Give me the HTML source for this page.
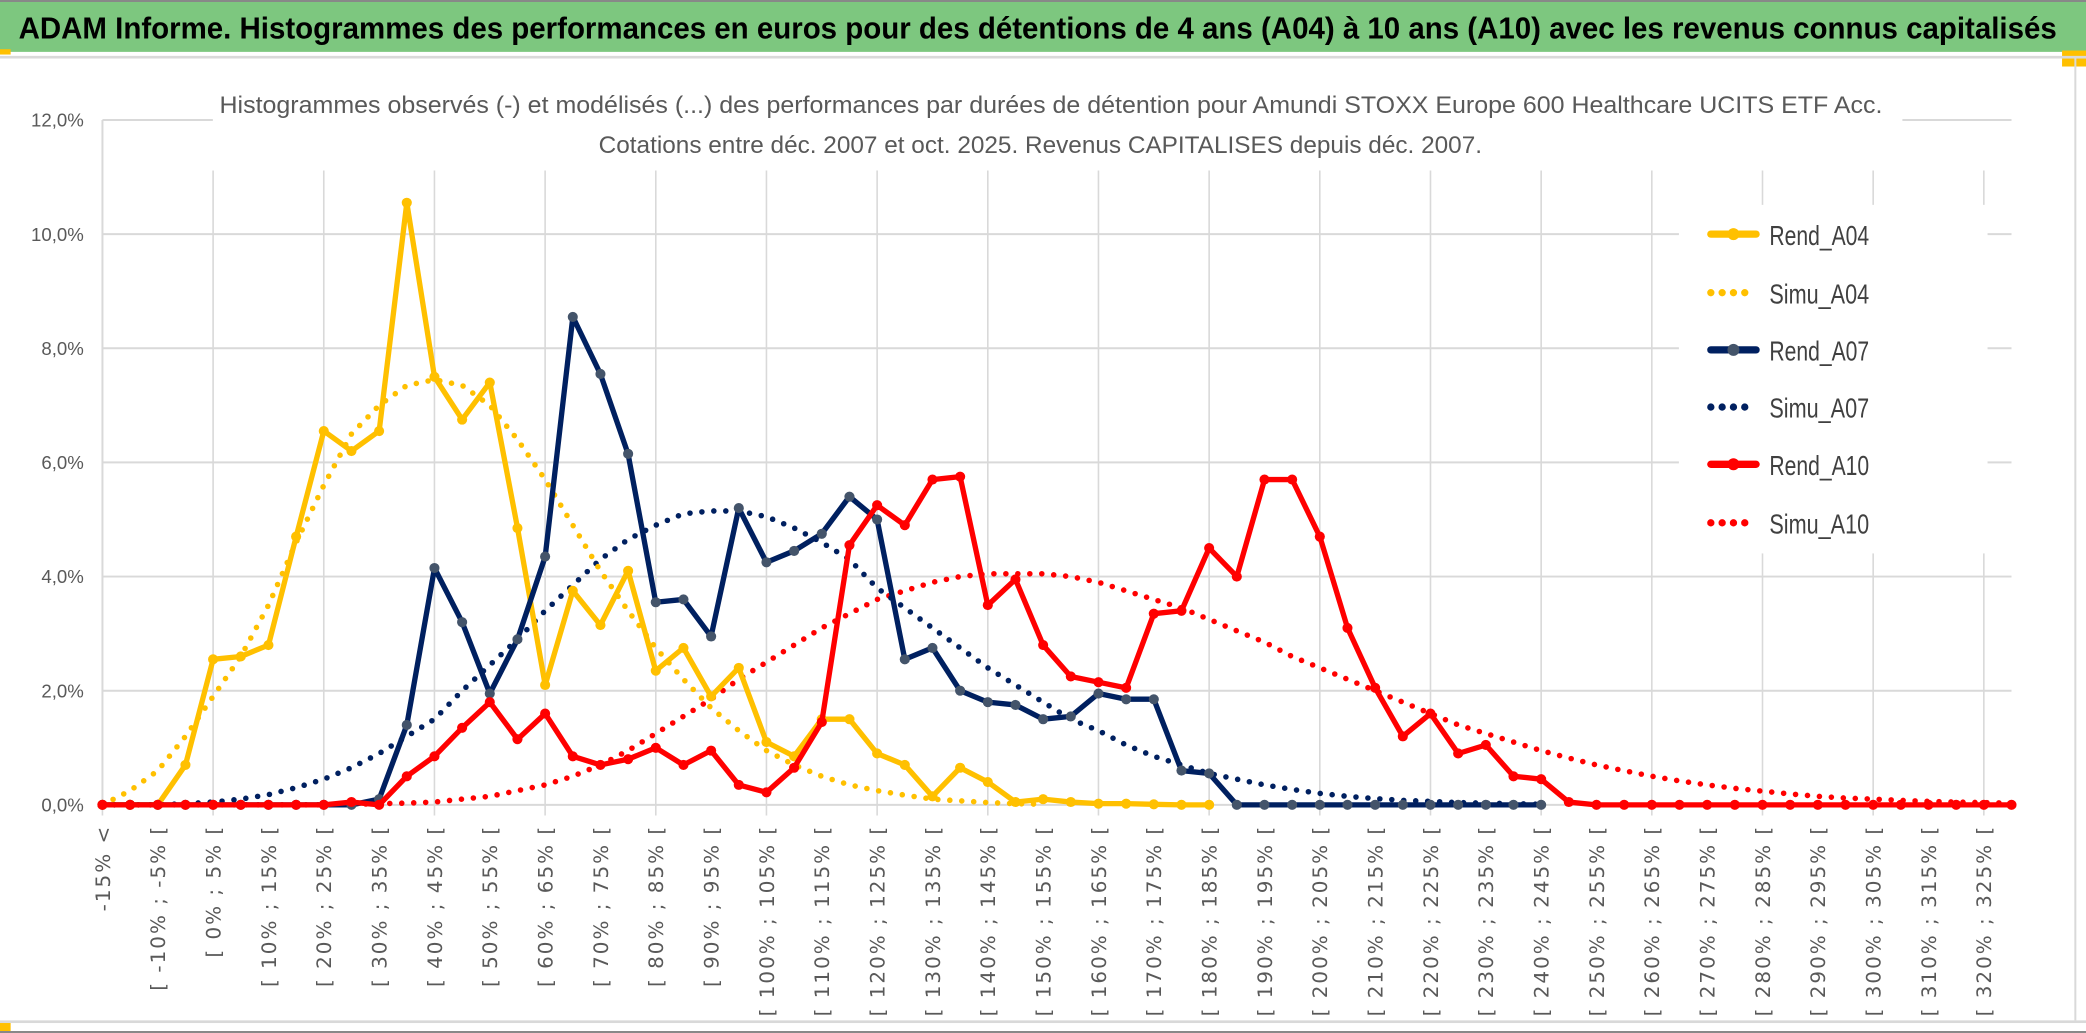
<!DOCTYPE html>
<html><head><meta charset="utf-8"><style>
html,body{margin:0;padding:0;background:#fff;overflow:hidden}
svg{display:block}
</style></head><body>
<svg id="chart" width="2086" height="1033" viewBox="0 0 1568 776.5" preserveAspectRatio="none" xmlns="http://www.w3.org/2000/svg" font-family="'Liberation Sans', sans-serif">
<rect x="0" y="0" width="1568" height="776.5" fill="#fff"/>
<rect x="0" y="1" width="1568" height="38" fill="#7dc77f"/>
<rect x="0" y="0" width="1568" height="1.5" fill="#888"/>
<text x="14" y="29" font-size="23" font-weight="bold" fill="#000" textLength="1532" lengthAdjust="spacingAndGlyphs">ADAM Informe. Histogrammes des performances en euros pour des détentions de 4 ans (A04) à 10 ans (A10) avec les revenus connus capitalisés</text>
<rect x="0" y="37" width="8" height="4" fill="#ffc000"/>
<rect x="1550" y="38" width="18" height="12" fill="#ffc000"/>
<rect x="0" y="42" width="1568" height="2" fill="#d9d9d9"/>
<rect x="0" y="767" width="1568" height="2" fill="#d9d9d9"/>
<rect x="0" y="769" width="8" height="6" fill="#ffc000"/>
<rect x="0" y="775" width="1568" height="1.5" fill="#888"/>
<line x1="1560" y1="44" x2="1560" y2="767" stroke="#d9d9d9" stroke-width="1.5"/>
<g id="grid"></g>
<g id="yaxis"></g>
<g id="xaxis"></g>
<rect x="160" y="58" width="1270" height="64" fill="#fff"/>
<text x="790" y="85" text-anchor="middle" font-size="18" fill="#595959" textLength="1250" lengthAdjust="spacingAndGlyphs">Histogrammes observés (-) et modélisés (...) des performances par durées de détention pour Amundi STOXX Europe 600 Healthcare UCITS ETF Acc.</text>
<text x="782" y="115" text-anchor="middle" font-size="18" fill="#595959" textLength="664" lengthAdjust="spacingAndGlyphs">Cotations entre déc. 2007 et oct. 2025. Revenus CAPITALISES depuis déc. 2007.</text>
<g id="series"></g>
<g id="legend"></g>
</svg>
<script>
const categoryCount = 70;
const yTicks = [0, 2, 4, 6, 8, 10, 12];
const yTickLabels = ["0,0%","2,0%","4,0%","6,0%","8,0%","10,0%","12,0%"];
const categoryLowerBounds = [-15,-15,-10,-5,0,5,10,15,20,25,30,35,40,45,50,55,60,65,70,75,80,85,90,95,100,105,110,115,120,125,130,135,140,145,150,155,160,165,170,175,180,185,190,195,200,205,210,215,220,225,230,235,240,245,250,255,260,265,270,275,280,285,290,295,300,305,310,315,320,325];
const rendA04 = [0,0,0,0.7,2.55,2.6,2.8,4.7,6.55,6.2,6.55,10.55,7.5,6.75,7.4,4.85,2.1,3.75,3.15,4.1,2.35,2.75,1.9,2.4,1.1,0.85,1.5,1.5,0.9,0.7,0.15,0.65,0.4,0.05,0.1,0.05,0.02,0.02,0.01,0,0];
const simuA04 = [0,0.25,0.6,1.2,1.9,2.6,3.5,4.6,5.6,6.5,7.0,7.35,7.45,7.35,7.0,6.4,5.7,4.9,4.1,3.4,2.75,2.2,1.7,1.3,0.95,0.7,0.5,0.35,0.25,0.17,0.1,0.07,0.04,0.02,0.01];
const rendA07 = [0,0,0,0,0,0,0,0,0,0,0.1,1.4,4.15,3.2,1.95,2.9,4.35,8.55,7.55,6.15,3.55,3.6,2.95,5.2,4.25,4.45,4.75,5.4,5.0,2.55,2.75,2.0,1.8,1.75,1.5,1.55,1.95,1.85,1.85,0.6,0.55,0,0,0,0,0,0,0,0,0,0,0,0];
const simuA07 = [0,0,0,0.02,0.05,0.1,0.18,0.3,0.45,0.65,0.9,1.2,1.5,2.0,2.45,2.9,3.4,3.85,4.3,4.65,4.9,5.1,5.15,5.15,5.05,4.85,4.6,4.3,3.8,3.45,3.1,2.75,2.4,2.1,1.8,1.5,1.3,1.05,0.85,0.7,0.55,0.45,0.35,0.27,0.2,0.15,0.11,0.08,0.06,0.04,0.03,0.02,0.01];
const rendA10 = [0,0,0,0,0,0,0,0,0,0.05,0,0.5,0.85,1.35,1.8,1.15,1.6,0.85,0.7,0.8,1.0,0.7,0.95,0.35,0.22,0.65,1.45,4.55,5.25,4.9,5.7,5.75,3.5,3.95,2.8,2.25,2.15,2.05,3.35,3.4,4.5,4.0,5.7,5.7,4.7,3.1,2.05,1.2,1.6,0.9,1.05,0.5,0.45,0.05,0,0,0,0,0,0,0,0,0,0,0,0,0,0,0,0];
const simuA10 = [0,0,0,0,0,0,0,0,0,0.01,0.02,0.03,0.05,0.1,0.15,0.25,0.35,0.5,0.7,0.95,1.25,1.55,1.85,2.2,2.5,2.8,3.1,3.35,3.6,3.75,3.9,4.0,4.05,4.05,4.05,4.0,3.9,3.75,3.6,3.45,3.25,3.05,2.85,2.6,2.4,2.2,2.0,1.8,1.6,1.4,1.25,1.1,0.95,0.82,0.7,0.6,0.5,0.42,0.35,0.29,0.24,0.19,0.15,0.12,0.1,0.08,0.06,0.05,0.04,0.03];
const seriesNames = ["Rend_A04","Simu_A04","Rend_A07","Simu_A07","Rend_A10","Simu_A10"];

const NS = "http://www.w3.org/2000/svg";
const X0 = 77, XSTEP = (1512 - 77) / 69, Y0 = 605, YPER = 42.9;
function xs(i){ return X0 + i * XSTEP; }
function ys(v){ return Y0 - v * YPER; }
function mk(tag, attrs, parent){ const e = document.createElementNS(NS, tag); for (const k in attrs) e.setAttribute(k, attrs[k]); parent.appendChild(e); return e; }

const grid = document.getElementById('grid');
for (let t = 0; t < yTicks.length; t++) {
  const l = mk('line', {x1: X0, x2: 1512, y1: ys(yTicks[t]), y2: ys(yTicks[t]), stroke: '#d9d9d9', 'stroke-width': 1.5}, grid);
  
  
}
for (let i = 0; i < categoryCount; i += 4) {
  const l = mk('line', {x1: xs(i), x2: xs(i), y1: ys(12) + 38, y2: ys(0) + 8, stroke: '#d9d9d9', 'stroke-width': 1.2}, grid);
  
  
}
mk('line', {x1: X0, x2: X0, y1: ys(12), y2: ys(0), stroke: '#d9d9d9', 'stroke-width': 1.5}, grid);

const yaxis = document.getElementById('yaxis');
for (let t = 0; t < yTicks.length; t++) {
  const tx = mk('text', {x: 63, y: ys(yTicks[t]) + 5, 'text-anchor': 'end', 'font-size': 14, fill: '#595959'}, yaxis);
  tx.textContent = yTickLabels[t];
  
  
}
const xaxis = document.getElementById('xaxis');
for (let i = 0; i < categoryCount; i += 2) {
  const lb = categoryLowerBounds[i];
  const label = i === 0 ? lb + "% <" : "[ " + lb + "% ; " + (lb + 5) + "% [";
  const x = xs(i) + 5.5, y = 620;
  const tx = mk('text', {x: x, y: y, transform: 'rotate(-90 ' + x + ' ' + y + ')', 'text-anchor': 'end', 'font-size': 15, 'letter-spacing': 1.5, fill: '#595959', 'font-family': "'DejaVu Sans', sans-serif"}, xaxis);
  tx.textContent = label;
  
  
}

const layer = document.getElementById('series');
function pathOf(arr){ return arr.map((v, i) => (i ? 'L' : 'M') + xs(i).toFixed(1) + ' ' + ys(v).toFixed(1)).join(' '); }
function dotted(arr, color, name){
  const p = mk('path', {d: pathOf(arr), fill: 'none', stroke: color, 'stroke-width': 4.2, 'stroke-linecap': 'round', 'stroke-dasharray': '0 9'}, layer);
  
  
}
function solid(arr, color, mcolor, name){
  const g = mk('g', {}, layer);
  
  
  mk('path', {d: pathOf(arr), fill: 'none', stroke: color, 'stroke-width': 4, 'stroke-linejoin': 'round'}, g);
  for (let i = 0; i < arr.length; i++) {
    const c = mk('circle', {cx: xs(i), cy: ys(arr[i]), r: 3.8, fill: mcolor}, g);
    
    
  }
}
dotted(simuA10, '#ff0000', 'simu-a10-line');
dotted(simuA07, '#002060', 'simu-a07-line');
dotted(simuA04, '#ffc000', 'simu-a04-line');
solid(rendA04, '#ffc000', '#ffc000', 'rend-a04-line');
solid(rendA07, '#002060', '#44546a', 'rend-a07-line');
solid(rendA10, '#ff0000', '#ff0000', 'rend-a10-line');

const legend = document.getElementById('legend');
const bg = mk('rect', {x: 1262, y: 154, width: 232, height: 262, fill: '#fff'}, legend);


const legColors = ['#ffc000','#ffc000','#002060','#002060','#ff0000','#ff0000'];
const legMarkers = ['#ffc000','#ffc000','#44546a','#002060','#ff0000','#ff0000'];
const legY = [176, 220, 263, 306, 349, 393];
for (let k = 0; k < seriesNames.length; k++) {
  const g = mk('g', {}, legend);
  
  
  const y = legY[k];
  if (k % 2 === 0) {
    mk('line', {x1: 1286, x2: 1320, y1: y, y2: y, stroke: legColors[k], 'stroke-width': 5.5, 'stroke-linecap': 'round'}, g);
    mk('circle', {cx: 1303, cy: y, r: 4.5, fill: legMarkers[k]}, g);
  } else {
    mk('line', {x1: 1286, x2: k === 5 ? 1320 : 1312, y1: y, y2: y, stroke: legColors[k], 'stroke-width': 5.5, 'stroke-linecap': 'round', 'stroke-dasharray': '0 8.5'}, g);
  }
  const tx = mk('text', {x: 1330, y: y + 8, 'font-size': 21, fill: '#404040', textLength: 75, lengthAdjust: 'spacingAndGlyphs'}, g);
  tx.textContent = seriesNames[k];
}
</script>
</body></html>
